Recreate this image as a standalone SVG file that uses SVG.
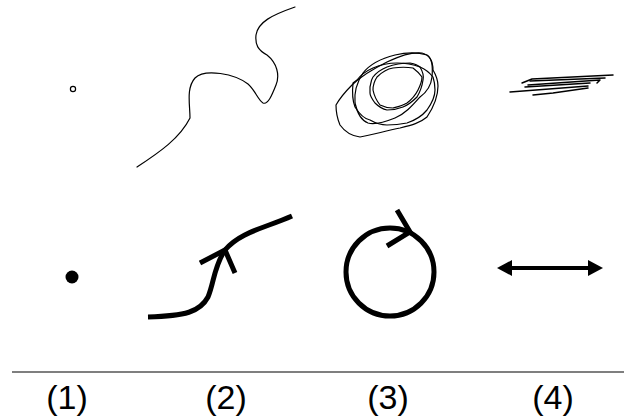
<svg xmlns="http://www.w3.org/2000/svg" width="624" height="418" viewBox="0 0 624 418">
<style>
.thin{fill:none;stroke:#000;stroke-width:1.2;stroke-linejoin:round;stroke-linecap:round}
.scr{fill:none;stroke:#000;stroke-width:1.5;stroke-linejoin:round;stroke-linecap:round}
.thick{fill:none;stroke:#000;stroke-width:5;stroke-linejoin:miter}
.lbl{font-family:"Liberation Sans",Arial,sans-serif;font-size:34px;fill:#000;text-anchor:middle}
</style>
<rect width="624" height="418" fill="#fff"/>
<g id="sketch1"><circle cx="73" cy="89" r="2.6" class="thin"/></g>
<g id="sketch2"><path class="thin" d="M137,167 C160,152 180,138 190,118 C190,105 186,88 195,78 C205,68 235,74 248,84 C255,90 258,100 263,103 C268,105 272,95 276,85 C280,75 277,63 267,55 C258,50 255,45 256,35 C258,22 272,15 295,7"/></g>
<g id="sketch3" class="thin">
<path d="M336,105 C340,98 345,92 352,85 C362,75 375,68 387,62 C400,56 410,52 422,53 C430,55 433,62 433,70 C436,75 438,80 438,86 C438,97 433,108 427,117 C420,123 412,125 400,128 C385,131 372,135 360,137 C352,136 345,132 340,125 C337,118 336,112 336,105 Z"/>
<path d="M363,73 C370,64 383,58 395,55 C408,52 420,53 427,55 C432,58 433,66 432,77 C431,86 427,92 420,97 C412,106 405,114 395,118 C385,122 375,125 368,123 C360,120 357,112 355,103 C354,92 357,82 363,73 Z"/>
<path d="M353,83 C352,93 353,102 355,107 C360,115 365,119 370,120 C377,124 382,125 387,125 C395,125 402,124 407,123 C416,120 422,116 427,110 C432,103 435,96 435,90 C435,84 434,80 433,77 C429,72 425,69 420,67 C412,64 405,63 397,63 C388,63 380,65 373,68 C366,71 360,76 357,80 Z"/>
<path d="M370,87 C371,83 371,80 373,77 C377,72 382,69 387,67 C395,64 403,63 410,63 C415,64 418,65 420,67 C423,72 424,76 423,80 C422,87 420,92 417,97 C412,102 408,105 403,107 C398,109 392,110 387,110 C382,109 378,106 375,103 C372,99 370,96 370,93 Z"/>
<path d="M373,90 C373,85 375,80 377,77 C382,72 387,69 393,68 C400,67 407,67 413,68 C417,71 420,74 422,77 C422,82 420,86 418,90 C415,96 411,100 407,103 C402,106 397,107 393,108 C388,108 384,107 380,105 C376,100 374,95 373,90 Z"/>
</g>
<g id="sketch4" class="scr">
<path d="M522,83 L532,79 L613,75"/>
<path d="M510,92 L588,86"/>
<path d="M528,85 L600,80 L597,83"/>
<path d="M533,95 L553,93 L588,88"/>
<path d="M525,87 L590,83"/>
<path d="M530,81 L605,78"/>
</g>
<g id="sym1"><circle cx="72" cy="277" r="6.5" fill="#000"/></g>
<g id="sym2">
<path class="thick" d="M148,317 C185,316 200,312 208,297 C214,283 214,266 225,250 C240,232 265,228 292,216"/>
<polyline class="thick" points="200,263 225,250 235,273"/>
</g>
<g id="sym3">
<circle class="thick" cx="390" cy="272" r="44"/>
<polyline class="thick" points="397,210 410,232 387,246"/>
</g>
<g id="sym4">
<line x1="508" y1="268" x2="592" y2="268" stroke="#000" stroke-width="4"/>
<polygon points="497,268 512,260 512,276" fill="#000"/>
<polygon points="603,268 588,260 588,276" fill="#000"/>
</g>
<g id="connectors"></g>
<line x1="12" y1="372" x2="624" y2="372" stroke="#000" stroke-width="1.2"/>
<text class="lbl" x="67" y="409">(1)</text>
<text class="lbl" x="226" y="409">(2)</text>
<text class="lbl" x="388" y="409">(3)</text>
<text class="lbl" x="553" y="409">(4)</text>
</svg>
